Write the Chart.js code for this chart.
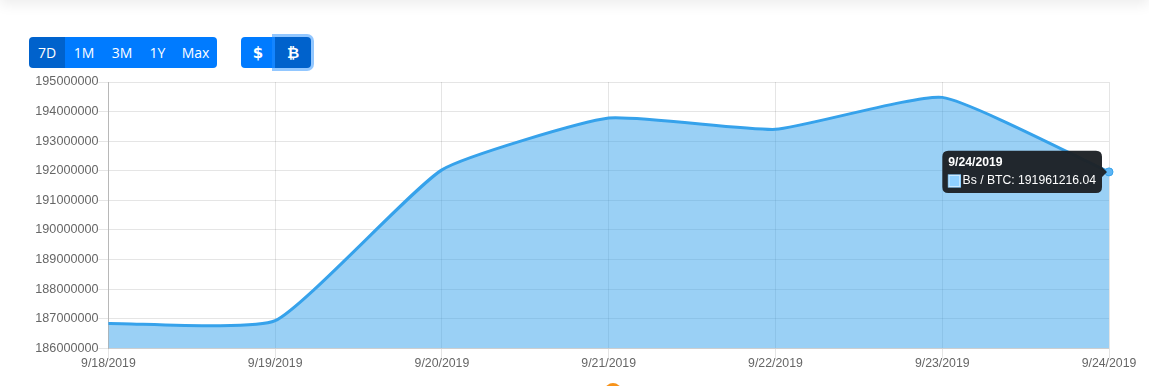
<!DOCTYPE html>
<html>
<head>
<meta charset="utf-8">
<title>Bs / BTC</title>
<script src="https://cdn.jsdelivr.net/npm/chart.js@4"></script>
<style>
  html, body { margin: 0; padding: 0; background: #fff; overflow: hidden; }
  body { width: 1149px; height: 386px; position: relative; font-family: "Open Sans", sans-serif; }
  .topbar { position: absolute; left: 0; top: -20px; width: 1149px; height: 20px; box-shadow: 0 4px 14px rgba(0,0,0,.08); }
  .btn-group { position: absolute; top: 37px; height: 31px; display: flex; border-radius: 4px; }
  .btn-group button { border: 0; margin: 0; padding: 0; height: 31px; background: #007bff; color: #fff; font: 14px "Open Sans", sans-serif; }
  .btn-group button.on { background: #0062cc; }
  .btn-group button:first-child { border-radius: 4px 0 0 4px; }
  .btn-group button:last-child { border-radius: 0 4px 4px 0; }
  #rangeBtns { left: 29px; }
  #unitBtns { left: 241px; }
  #unitBtns button { font: bold 15px "DejaVu Sans", sans-serif; }
  #unitBtns button.on { box-shadow: 0 0 0 3px rgba(38,143,255,.5); }
  .wrap { position: absolute; left: 0; top: 70px; width: 1149px; height: 316px; }
  .dot { position: absolute; left: 605px; top: 383px; width: 16px; height: 16px; border-radius: 50%; background: #f7931a; }
</style>
</head>
<body>
<div class="topbar"></div>
<div class="btn-group" id="rangeBtns"></div>
<div class="btn-group" id="unitBtns"></div>
<div class="wrap"><canvas id="chart"></canvas></div>
<div class="dot"></div>
<script>
const dates = ['9/18/2019','9/19/2019','9/20/2019','9/21/2019','9/22/2019','9/23/2019','9/24/2019'];
const rates = [186840000, 186930000, 192030000, 193780000, 193400000, 194480000, 191961216.04];
const rangeLabels = ['7D','1M','3M','1Y','Max'];
const rangeWidths = [36, 38, 38, 33, 43];
const unitLabels = ['$','₿'];
const unitWidths = [34, 36];

// ----- buttons -----
function addButtons(id, labels, widths, active) {
  const box = document.getElementById(id);
  labels.forEach((txt, i) => {
    const b = document.createElement('button');
    b.textContent = txt;
    b.style.width = widths[i] + 'px';
    if (i === active) b.className = 'on';
    box.appendChild(b);
  });
}
addButtons('rangeBtns', rangeLabels, rangeWidths, 0);
addButtons('unitBtns', unitLabels, unitWidths, 1);

// ----- chart -----
Chart.defaults.font.family = '"Liberation Sans", Arial, sans-serif';
Chart.defaults.font.size = 12;
Chart.defaults.color = '#666';

const chart = new Chart(document.getElementById('chart'), {
  type: 'line',
  data: {
    labels: dates,
    datasets: [{
      label: 'Bs / BTC',
      data: rates,
      fill: true,
      tension: 0.15,
      clip: false,
      borderWidth: 3,
      borderColor: 'rgb(54,162,235)',
      backgroundColor: 'rgba(54,162,235,.5)',
      pointRadius: 0,
      pointHoverRadius: 4,
      pointHoverBorderWidth: 1,
      pointHoverBackgroundColor: '#5db5f5',
      pointHoverBorderColor: 'rgb(54,162,235)'
    }]
  },
  options: {
    responsive: true,
    maintainAspectRatio: false,
    animation: false,
    layout: { padding: { top: 12, right: 40, bottom: 17 } },
    plugins: {
      legend: { display: false },
      tooltip: {
        backgroundColor: 'rgba(30,34,38,.97)',
        xAlign: 'right',
        yAlign: 'center',
        titleFont: { weight: 'bold', size: 12.2, lineHeight: 1 },
        bodyFont: { size: 12.2, lineHeight: 1 },
        callbacks: {
          label: c => c.dataset.label + ': ' + c.parsed.y,
          labelColor: () => ({ borderColor: '#8fd0ff', backgroundColor: '#8fd0ff', borderWidth: 0 })
        }
      }
    },
    scales: {
      x: {
        grid: { color: 'rgba(0,0,0,.1)', drawTicks: true, tickLength: 10 },
        border: { color: 'rgba(0,0,0,.1)' },
        offset: false,
        ticks: { autoSkip: false, maxRotation: 0, padding: -2, font: { size: 12.3 } }
      },
      y: {
        min: 186000000,
        max: 195000000,
        afterFit: s => { s.width = 108.4; },
        grid: { color: 'rgba(0,0,0,.1)', tickLength: 10 },
        border: { color: 'rgba(0,0,0,.2)' },
        ticks: { stepSize: 1000000, callback: v => String(v), padding: 0, font: { size: 12.6 } }
      }
    }
  }
});

// tooltip stays open on the last point
const last = dates.length - 1;
const pt = chart.getDatasetMeta(0).data[last];
chart.setActiveElements([{ datasetIndex: 0, index: last }]);
chart.tooltip.setActiveElements([{ datasetIndex: 0, index: last }], { x: pt.x, y: pt.y });
chart.update();
</script>
</body>
</html>
